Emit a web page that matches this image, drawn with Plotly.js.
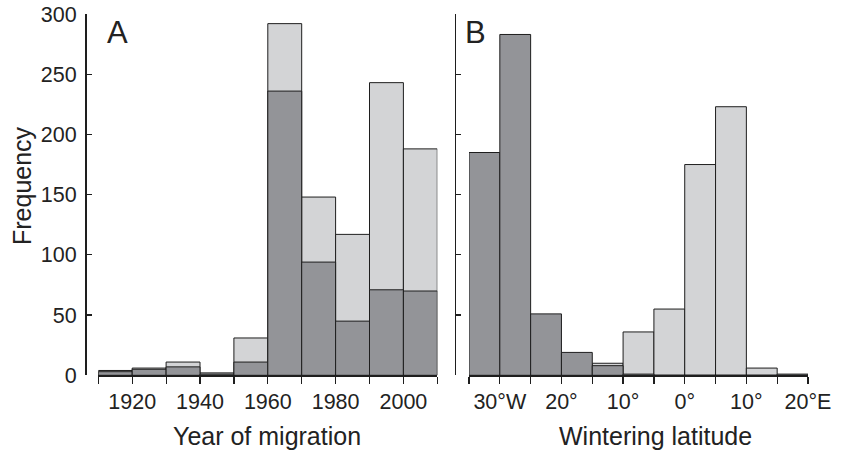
<!DOCTYPE html>
<html>
<head>
<meta charset="utf-8">
<script src="https://cdn.plot.ly/plotly-3.0.1.min.js"></script>
<style>html,body{margin:0;padding:0;background:#fff;}#chart{width:843px;height:453px;}</style>
</head>
<body>
<div id="chart"></div>
<script>
// Panel A: year of migration (bin centres, 10-year bins)
const yearBins = [1915, 1925, 1935, 1945, 1955, 1965, 1975, 1985, 1995, 2005];
const yearLight = [4, 6, 11, 2, 31, 292, 148, 117, 243, 188];
const yearDark  = [3, 5, 7, 1, 11, 236, 94, 45, 71, 70];
const yearTickVals = [1910, 1920, 1930, 1940, 1950, 1960, 1970, 1980, 1990, 2000, 2010];
const yearTickText = ['', '1920', '', '1940', '', '1960', '', '1980', '', '2000', ''];

// Panel B: wintering latitude (bin centres, 5-degree bins)
const latBins = [-32.5, -27.5, -22.5, -17.5, -12.5, -7.5, -2.5, 2.5, 7.5, 12.5, 17.5];
const latLight = [0, 0, 0, 0, 10, 36, 55, 175, 223, 6, 0];
const latDark  = [185, 283, 51, 19, 8, 1, 0, 0, 0, 0, 1];
const latTickVals = [-35, -30, -25, -20, -15, -10, -5, 0, 5, 10, 15, 20];
const latTickText = ['', '30°W', '', '20°', '', '10°', '', '0°', '', '10°', '', '20°E'];

const freqTicks = [0, 50, 100, 150, 200, 250, 300];

const dark = '#939498';
const light = '#d3d4d6';
const edge = '#1e1e1e';
const font = 'Liberation Sans, Arial, sans-serif';
const W = 843, H = 453;

function bar(x, y, color, width, xa) {
  return {type: 'bar', x: x, y: y, width: width, xaxis: xa, yaxis: xa === 'x' ? 'y' : 'y2',
    marker: {color: color, line: {color: edge, width: 1}}, hoverinfo: 'x+y', showlegend: false};
}

const data = [
  bar(yearBins, yearLight, light, 10, 'x'),
  bar(yearBins, yearDark, dark, 10, 'x'),
  bar(latBins, latLight, light, 5, 'x2'),
  bar(latBins, latDark, dark, 5, 'x2')
];

const xCommon = {showgrid: false, zeroline: false, showline: true, linecolor: edge, linewidth: 1.3,
  ticks: 'outside', ticklen: 7, tickwidth: 1.2, tickcolor: edge, tickmode: 'array',
  tickfont: {family: font, size: 21.5, color: '#222'}, fixedrange: true};
const yCommon = {showgrid: false, zeroline: false, showline: true, linecolor: edge, linewidth: 1.5,
  ticks: 'inside', ticklen: 5, tickwidth: 1.2, tickcolor: edge, tickmode: 'array', tickvals: freqTicks,
  range: [0, 300], domain: [(H - 375.3) / H, (H - 14) / H], anchor: 'free', ticklabelstandoff: 4,
  tickfont: {family: font, size: 21.5, color: '#222'}, fixedrange: true};

const layout = {
  width: W, height: H, margin: {l: 0, r: 0, t: 0, b: 0},
  paper_bgcolor: '#fff', plot_bgcolor: 'rgba(0,0,0,0)',
  barmode: 'overlay', bargap: 0,
  font: {family: font, color: '#222'},
  xaxis: Object.assign({}, xCommon, {domain: [98.3 / W, 437.3 / W], range: [1910, 2010],
    tickvals: yearTickVals, ticktext: yearTickText, anchor: 'y'}),
  xaxis2: Object.assign({}, xCommon, {domain: [469 / W, 808 / W], range: [-35, 20],
    tickvals: latTickVals, ticktext: latTickText, anchor: 'y2'}),
  yaxis: Object.assign({}, yCommon, {position: 85 / W}),
  yaxis2: Object.assign({}, yCommon, {position: 454.5 / W, showticklabels: false}),
  annotations: [
    {text: 'Year of migration', xref: 'paper', yref: 'paper', x: 267 / W, y: 1 - 436 / H,
      showarrow: false, font: {family: font, size: 25, color: '#222'}, xanchor: 'center', yanchor: 'middle'},
    {text: 'Wintering latitude', xref: 'paper', yref: 'paper', x: 655 / W, y: 1 - 436 / H,
      showarrow: false, font: {family: font, size: 25, color: '#222'}, xanchor: 'center', yanchor: 'middle'},
    {text: 'Frequency', xref: 'paper', yref: 'paper', x: 22 / W, y: 1 - 186 / H, textangle: -90,
      showarrow: false, font: {family: font, size: 25, color: '#222'}, xanchor: 'center', yanchor: 'middle'},
    {text: 'A', xref: 'paper', yref: 'paper', x: 117 / W, y: 1 - 32 / H,
      showarrow: false, font: {family: font, size: 31, color: '#222'}, xanchor: 'center', yanchor: 'middle'},
    {text: 'B', xref: 'paper', yref: 'paper', x: 476 / W, y: 1 - 32 / H,
      showarrow: false, font: {family: font, size: 31, color: '#222'}, xanchor: 'center', yanchor: 'middle'}
  ]
};

Plotly.newPlot('chart', data, layout, {displayModeBar: false, staticPlot: true});
</script>
</body>
</html>
